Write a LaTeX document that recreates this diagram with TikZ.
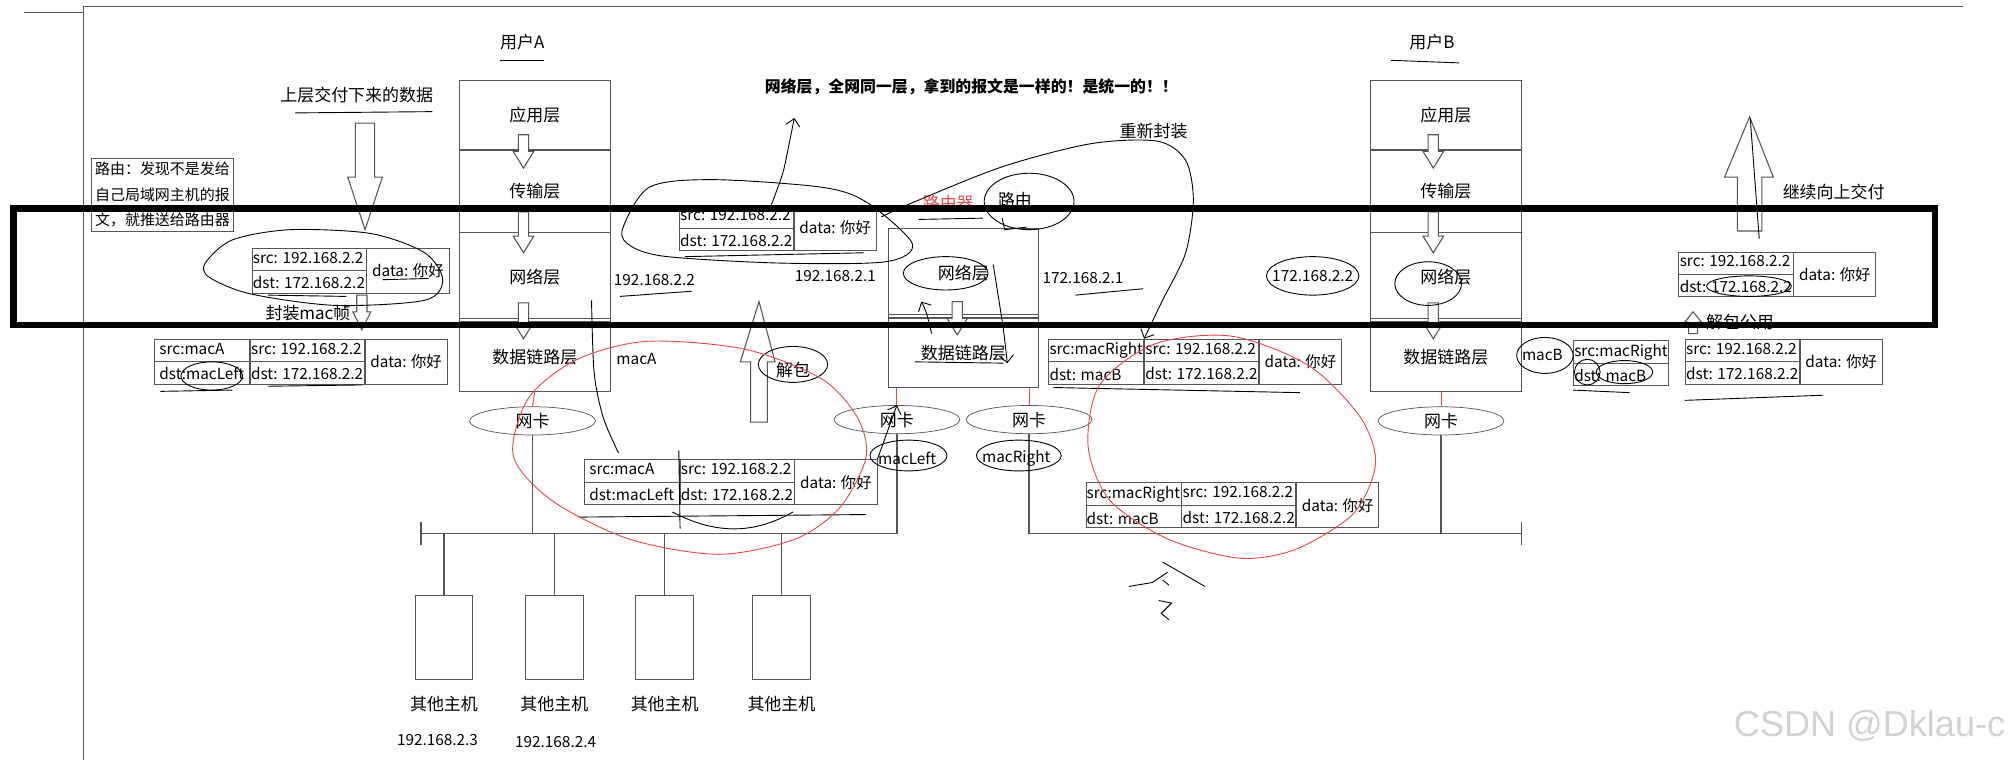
\documentclass[tikz,border=0pt]{standalone}
\usepackage{fontspec}
\setmainfont{Noto Sans CJK SC}
\newfontfamily\wmfont{Liberation Sans}
\usetikzlibrary{positioning, arrows.meta, shapes.geometric}
\definecolor{inkred}{RGB}{228,72,72}
\definecolor{boxgray}{RGB}{85,85,85}

\begin{document}
\begin{tikzpicture}[
        x=0.025cm, y=-0.025cm,
        % common styles
        every node/.style={font=\fontsize{9.4}{11}\selectfont},
        lat/.style={font=\fontsize{8.5}{11}\selectfont},
        layer/.style={draw=boxgray, rectangle, minimum width=2.925cm, inner sep=0pt},
        ipbox/.style={draw=boxgray, rectangle, minimum width=2.225cm, minimum height=0.875cm, inner sep=0pt, align=left, font=\fontsize{8.5}{14.2}\selectfont},
        macbox/.style={ipbox, minimum width=1.85cm},
        databox/.style={ipbox, minimum width=1.6cm, align=center},
        nic/.style={draw=boxgray, ellipse, minimum width=2.45cm, minimum height=0.55cm, inner sep=0pt},
        host/.style={draw=boxgray, rectangle, minimum width=1.125cm, minimum height=1.625cm},
        hollow/.style={draw=boxgray, fill=white, line width=0.6pt},
        wire/.style={boxgray, line width=0.7pt},
        pen/.style={black, line width=0.5pt},
        redpen/.style={inkred, line width=0.5pt},
        arrow/.style={-{Straight Barb[length=4pt]}, pen}
    ]
    \useasboundingbox (0,0) rectangle (1568,592);

    % page frame
    \draw[wire] (65,5) -- (65,592);
    \draw[wire] (65,5) -- (1530,5);
    \draw[wire] (19,10) -- (65,10);

    % user A stack
    \node (userA) at (407,33) {用户A};
    \node[layer, minimum height=1.35cm, anchor=north west] (aApp) at (358,62) {应用层};
    \node[layer, minimum height=1.6cm, below=0pt of aApp] (aTrans) {传输层};
    \node[layer, minimum height=1.725cm, below=0pt of aTrans] (aNet) {网络层};
    \node[layer, minimum height=1.35cm, below=0pt of aNet] (aLink) {数据链路层};

    % router
    \node[layer, minimum height=1.725cm, anchor=north west] (rNet) at (692,178) {网络层};
    \node[layer, minimum height=1.35cm, below=0pt of rNet] (rLink) {数据链路层};

    % user B stack
    \node (userB) at (1116,33) {用户B};
    \node[layer, minimum height=1.35cm, anchor=north west] (bApp) at (1068,62) {应用层};
    \node[layer, minimum height=1.6cm, below=0pt of bApp] (bTrans) {传输层};
    \node[layer, minimum height=1.725cm, below=0pt of bTrans] (bNet) {网络层};
    \node[layer, minimum height=1.35cm, below=0pt of bNet] (bLink) {数据链路层};

    \foreach \lk in {aLink, rLink, bLink}
        \draw[boxgray] ([yshift=2pt]\lk.north west) -- ([yshift=2pt]\lk.north east);

    % layer arrows
    \foreach \ax/\ay/\al in {408/105/26, 408/165/32, 408/236/28, 746/235/26, 1117/105/26, 1117/165/32, 1117/236/28}
        \draw[hollow] (\ax-4,\ay) -- (\ax-4,\ay+\al-13) -- (\ax-8,\ay+\al-13) -- (\ax,\ay+\al)
            -- (\ax+8,\ay+\al-13) -- (\ax+4,\ay+\al-13) -- (\ax+4,\ay) -- cycle;

    % network cards
    \node[nic] (nicA) at (415,328) {网卡};
    \node[nic] (nicL) at (699,327) {网卡};
    \node[nic] (nicR) at (802,327) {网卡};
    \node[nic] (nicB) at (1123,328) {网卡};
    \draw[redpen] (aLink.south) -- (nicA.north);
    \draw[redpen] (nicL.north |- rLink.south) -- (nicL.north);
    \draw[redpen] (nicR.north |- rLink.south) -- (nicR.north);
    \draw[redpen] (bLink.south -| nicB.north) -- (nicB.north);

    % buses
    \coordinate (busL) at (328,416);
    \coordinate (busR) at (1186,416);
    \draw[wire] (busL) -- (nicL.south |- busL);
    \draw[wire] (busL) ++(0,-9) -- ++(0,18);
    \draw[wire] (nicR.south |- busR) -- (busR);
    \draw[wire] (busR) ++(0,-9) -- ++(0,18);
    \draw[wire] (nicA.south) -- (nicA.south |- busL);
    \draw[wire] (nicL.south) -- (nicL.south |- busL);
    \draw[wire] (nicR.south) -- (nicR.south |- busR);
    \draw[wire] (nicB.south) -- (nicB.south |- busR);

    % other hosts
    \foreach \hx/\hn in {346/1, 432/2, 518/3, 609/4} {
        \node[host, anchor=north] (h\hn) at (\hx,464) {};
        \draw[wire] (h\hn.north) -- (h\hn.north |- busL);
        \node (hl\hn) at (\hx,549) {其他主机};
    }
    \node[lat] (ip3) at (341,577) {192.168.2.3};
    \node[lat] (ip4) at (433,578) {192.168.2.4};

    % packets
    \node[ipbox, anchor=north west] (p1ip) at (196,193) {src: 192.168.2.2\\dst: 172.168.2.2};
    \node[databox, right=0pt of p1ip] (p1dat) {data: 你好};

    \node[macbox, anchor=north west] (p2mac) at (120,264) {src:macA\\dst:macLeft};
    \node[ipbox, right=0pt of p2mac] (p2ip) {src: 192.168.2.2\\dst: 172.168.2.2};
    \node[databox, right=0pt of p2ip] (p2dat) {data: 你好};

    \node[ipbox, anchor=north west] (p3ip) at (529,160) {src: 192.168.2.2\\dst: 172.168.2.2};
    \node[databox, right=0pt of p3ip] (p3dat) {data: 你好};

    \node[macbox, anchor=north west] (p4mac) at (455,358) {src:macA\\dst:macLeft};
    \node[ipbox, right=0pt of p4mac] (p4ip) {src: 192.168.2.2\\dst: 172.168.2.2};
    \node[databox, right=0pt of p4ip] (p4dat) {data: 你好};

    \node[macbox, anchor=north west] (p5mac) at (817,264) {src:macRight\\dst: macB};
    \node[ipbox, right=0pt of p5mac] (p5ip) {src: 192.168.2.2\\dst: 172.168.2.2};
    \node[databox, right=0pt of p5ip] (p5dat) {data: 你好};

    \node[macbox, anchor=north west] (p6mac) at (846,376) {src:macRight\\dst: macB};
    \node[ipbox, right=0pt of p6mac] (p6ip) {src: 192.168.2.2\\dst: 172.168.2.2};
    \node[databox, right=0pt of p6ip] (p6dat) {data: 你好};

    \node[macbox, anchor=north west] (p7mac) at (1226,265) {src:macRight\\dst: macB};
    \node[ipbox, anchor=north west] (p8ip) at (1313,264) {src: 192.168.2.2\\dst: 172.168.2.2};
    \node[databox, right=0pt of p8ip] (p8dat) {data: 你好};

    \node[ipbox, anchor=north west] (p9ip) at (1308,196) {src: 192.168.2.2\\dst: 172.168.2.2};
    \node[databox, right=0pt of p9ip] (p9dat) {data: 你好};

    \foreach \pk in {p1ip, p2mac, p2ip, p3ip, p4mac, p4ip, p5mac, p5ip, p6mac, p6ip, p7mac, p8ip, p9ip}
        \draw[boxgray] (\pk.west) -- (\pk.east);

    % big hollow arrows
    \draw[hollow] (277,96) -- (277,138) -- (271,138) -- (284.5,179) -- (298,138) -- (292,138) -- (292,96) -- cycle;
    \draw[hollow] (278,230) -- (278,243) -- (275,243) -- (282,257) -- (289,243) -- (286,243) -- (286,230) -- cycle;
    \draw[hollow] (585,329) -- (585,282) -- (577,282) -- (591.5,235) -- (604,282) -- (598,282) -- (598,329) -- cycle;
    \draw[hollow] (1354,180) -- (1354,138) -- (1344,138) -- (1363.5,91) -- (1382,138) -- (1373,138) -- (1373,180) -- cycle;
    \draw[hollow] (1316,260) -- (1316,251) -- (1313,251) -- (1319.5,243) -- (1326,251) -- (1323,251) -- (1323,260) -- cycle;
    \draw[pen] (1364,92) -- (1371,186);

    % labels
    \node (downlbl) at (278,74) {上层交付下来的数据};
    \node[draw=boxgray, align=left, font=\fontsize{8.3}{14.2}\selectfont, inner sep=2pt, anchor=north west] (note) at (71,123) {路由：发现不是发给\\自己局域网主机的报\\文，就推送给路由器};
    \node (encap) at (240,244) {封装mac帧};
    \node[font=\bfseries\fontsize{8.8}{10}\selectfont] (title) at (757,68) {网络层，全网同一层，拿到的报文是一样的！是统一的！！};
    \node (rewrap) at (899,102) {重新封装};
    \node[text=inkred] (rtr) at (739,158) {路由器};
    \node (route) at (791,156) {路由};
    \node[lat] (ipA) at (510,218) {192.168.2.2};
    \node[lat] (gwL) at (651,215) {192.168.2.1};
    \node[lat] (gwR) at (844,217) {172.168.2.1};
    \node[lat] (ipB) at (1023,215) {172.168.2.2};
    \node[lat] (macA) at (496,280) {macA};
    \node (unpack) at (618,288) {解包};
    \node[lat] (macL) at (707,357) {macLeft};
    \node[lat] (macR) at (792,357) {macRight};
    \node[lat] (macB) at (1202,277) {macB};
    \node (upB) at (1429,150) {继续向上交付};
    \node (unpackB) at (1356,251) {解包公用};

    % hand drawn marks
    \draw[pen] plot[smooth cycle] coordinates {(160,205) (181,187) (226,179) (289,182) (331,197) (345,218) (331,234) (261,238) (195,229) (163,216)};
    \draw[pen] plot[smooth cycle] coordinates {(485,179) (506,146) (555,140) (641,146) (676,158) (711,190) (690,204) (607,205) (520,200) (492,192)};
    \draw[arrow] plot[smooth] coordinates {(601,160) (610,135) (615,112) (619,92)};
    \draw[arrow] plot[smooth] coordinates {(687,169) (711,158) (781,130) (850,112) (902,110) (924,125) (930,156) (924,197) (906,234) (p5mac.north east)};
    \draw[pen] (802,157) ellipse [x radius=35, y radius=22];
    \draw[pen] (781,170) -- (783,179) -- (800,177);
    \draw[pen] (737,213) ellipse [x radius=33, y radius=13];
    \draw[arrow] plot[smooth] coordinates {(726,260) (722,244) (718,235)};
    \draw[arrow] plot[smooth] coordinates {(774,206) (778,231) (782,257) (785,283)};
    \draw[pen] (1023,215) ellipse [x radius=36, y radius=15];
    \draw[pen] (1113,221) ellipse [x radius=26, y radius=17];
    \draw[pen] (1204,277) ellipse [x radius=22, y radius=14];
    \draw[pen] (1266,290) ellipse [x radius=22, y radius=9];
    \draw[pen] (1237,290) ellipse [x radius=10, y radius=10];
    \draw[pen] (1363,223) ellipse [x radius=33, y radius=8];
    \draw[pen] (165,293) ellipse [x radius=24, y radius=11];
    \draw[pen] (708,355) ellipse [x radius=30, y radius=12];
    \draw[pen] (794,355) ellipse [x radius=33, y radius=12];
    \draw[pen] (618,284) ellipse [x radius=27, y radius=14];
    \draw[pen] plot[smooth] coordinates {(461,234) (463,290) (470,325) (482,353)};
    \draw[pen] (529,351) -- (530,412);
    \draw[arrow] (p4dat.north east) -- (nicL.north);
    \draw[pen] (524,399) .. controls (560,418) and (590,415) .. (618,399);

    % underlines
    \draw[pen] (390,47) -- (424,47);
    \draw[pen] (1084,47) -- (1137,49);
    \draw[pen] (230,88) -- (337,87);
    \draw[pen] (483,231) -- (539,227);
    \draw[pen] (838,230) -- (891,225);
    \draw[pen] (716,171) -- (766,170);
    \draw[pen] (713,282) -- (782,283);
    \draw[pen] (534,200) -- (673,197);
    \draw[pen] (209,230) -- (270,231);
    \draw[pen] (298,218) -- (334,217);
    \draw[pen] (821,302) -- (1013,306);
    \draw[pen] (1226,304) -- (1270,306);
    \draw[pen] (1313,312) -- (1421,308);
    \draw[pen] (125,305) -- (181,304);
    \draw[pen] (209,301) -- (282,300);
    \draw[pen] (451,403) -- (675,401);

    % scribble under the last frame
    \draw[pen] (906,438) -- (939,457);
    \draw[pen] (880,457) -- (898,454) -- (910,446);
    \draw[pen] (906,452) -- (911,456);
    \draw[pen] (903,468) -- (913,470) -- (905,478) -- (911,483);

    % red circles
    \draw[redpen] plot[smooth cycle] coordinates {(504,266) (580,272) (640,295) (668,325) (675,356) (655,395) (620,420) (560,432) (490,420) (430,390) (400,355) (412,310) (450,280)};
    \draw[redpen] plot[smooth cycle] coordinates {(900,268) (960,262) (1020,285) (1060,325) (1072,361) (1055,400) (1010,428) (966,435) (910,420) (865,390) (848,348) (857,300)};

    % network layer frame
    \draw[line width=3.5pt] (10.5,162.5) rectangle (1508,253.5);

    \node[font=\wmfont\fontsize{20}{24}\selectfont, text=gray!35] (mark) at (1457,566) {CSDN @Dklau-c};
\end{tikzpicture}
\end{document}
